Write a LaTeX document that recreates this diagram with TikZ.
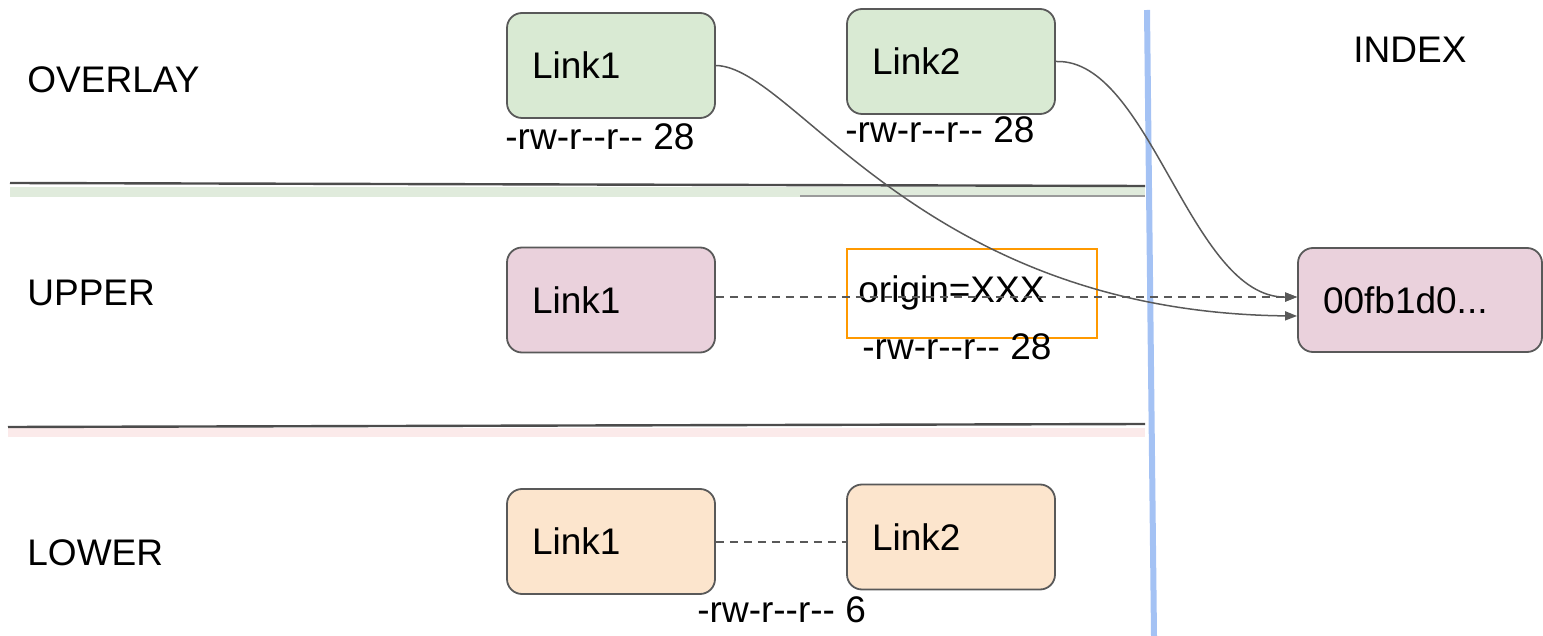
\documentclass[tikz,border=0pt]{standalone}
\usepackage{fontspec}
\setmainfont{Liberation Sans}[Ligatures=TeXOff]
\usetikzlibrary{arrows.meta}
\definecolor{edgegrey}{HTML}{595959}
\definecolor{ovfill}{HTML}{D9EAD3}
\definecolor{upfill}{HTML}{EAD1DC}
\definecolor{lowfill}{HTML}{FCE5CD}
\definecolor{origline}{HTML}{FF9900}
\definecolor{divider}{HTML}{A4C2F4}
\definecolor{greenshade}{HTML}{E0EBDC}
\definecolor{pinkshade}{HTML}{FBEAEA}
\newcommand{\bigtext}{\fontsize{18.5}{22}\selectfont}
\tikzset{
  linkbox/.style={draw=edgegrey, line width=0.9pt, rounded corners=7.5pt,
    minimum height=52.5pt, text width=79pt, inner xsep=12.5pt, align=left,
    font=\bigtext},
  plain/.style={font=\bigtext, inner sep=0pt, anchor=west},
  conn/.style={draw=edgegrey, line width=0.75pt,
    -{Triangle[length=6pt,width=4.5pt]}},
  dashconn/.style={draw=edgegrey, line width=0.75pt,
    dash pattern=on 4pt off 3pt},
  sepline/.style={draw=edgegrey!85!black, line width=1.2pt},
}
\begin{document}
\begin{tikzpicture}[x=0.5pt, y=-0.5pt]
\useasboundingbox (0,0) rectangle (1543,636);

% layer separators with their soft shadows
\fill[greenshade] (10,187) rectangle (1145,197);
\draw[edgegrey!60, line width=0.6pt] (800,196) -- (1145,196);
\draw[sepline] (10,183) -- (1145,186);
\fill[pinkshade] (8,428) rectangle (1145,437);
\draw[sepline] (8,427) -- (1145,424);

% index divider
\draw[divider, line width=3pt] (1147,10) -- (1154,636);

% row labels
\node[plain] (lov) at (27,80) {OVERLAY};
\node[plain] (lup) at (27,293) {UPPER};
\node[plain] (llo) at (27,553) {LOWER};
\node[plain] (lidx) at (1353,50) {INDEX};

% overlay layer
\node[linkbox, fill=ovfill] (ov1) at (611,65.5) {Link1};
\node[linkbox, fill=ovfill] (ov2) at (951,61.5) {Link2};
\node[plain] (ov1m) at (505,137) {-rw-r--r-- 28};
\node[plain] (ov2m) at (845,130) {-rw-r--r-- 28};

% upper layer
\node[linkbox, fill=upfill] (up1) at (611,300) {Link1};
\node[draw=origline, line width=0.9pt, minimum width=125pt, minimum height=44.5pt,
      inner sep=0pt] (orig) at (972,293.5) {};
\node[plain] (origt) at (858,293) {origin=XXX};
\node[plain] (origm) at (862,347) {-rw-r--r-- 28};

% index entry
\node[draw=edgegrey, line width=0.9pt, rounded corners=7.5pt, fill=upfill,
      minimum height=52pt, text width=97pt, inner xsep=12.5pt, align=left,
      font=\bigtext] (idx) at (1420,300) {00fb1d0...};

% lower layer
\node[linkbox, fill=lowfill] (lo1) at (611,541.5) {Link1};
\node[linkbox, fill=lowfill] (lo2) at (951,537) {Link2};
\node[plain] (lom) at (697,610) {-rw-r--r-- 6};

% connectors
\draw[dashconn, -{Triangle[length=6pt,width=4.5pt]}] ([yshift=1.5pt]up1.east) -- ([yshift=1.5pt]idx.west);
\draw[conn] (ov1.east) .. controls (795,67) and (920,312) .. ([yshift=-8pt]idx.west);
\draw[conn] (ov2.east) .. controls (1150,58) and (1190,298) .. ([yshift=1.5pt]idx.west);
\draw[dashconn] ([yshift=-0.25pt]lo1.east) -- ([yshift=-0.25pt]lo1.east -| lo2.west);
\end{tikzpicture}
\end{document}
